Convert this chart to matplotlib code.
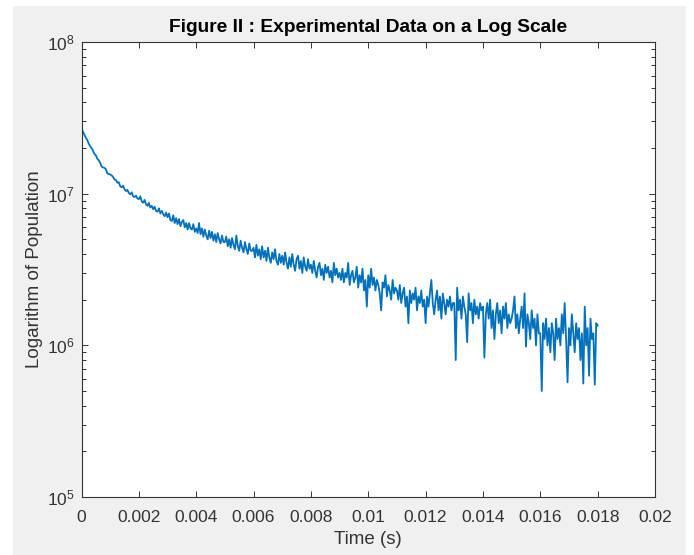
import numpy as np
import matplotlib.pyplot as plt
from matplotlib.patches import Rectangle
from matplotlib.ticker import FixedLocator, NullFormatter

plt.rcParams['font.family'] = ['Liberation Sans', 'DejaVu Sans']
plt.rcParams['mathtext.default'] = 'regular'

LINE_COLOR = '#0072BD'
TEXT_COLOR = '#333333'

# sampling step of the measurement (s)
dt = 0.00005

# population in millions, one row per millisecond (20 samples each)
pop_millions = [
    27.0, 25.6, 24.5, 23.4, 22.6, 21.4, 20.6, 20.0, 19.2, 18.3, 17.9, 17.0, 16.6, 16.0, 15.1, 14.9, 14.8, 14.5, 13.6, 13.5,
    13.4, 13.2, 12.9, 12.4, 12.3, 11.8, 11.9, 11.2, 11.0, 11.3, 10.7, 10.4, 10.6, 10.1, 9.9, 10.2, 9.6, 9.5, 9.7, 9.3,
    9.2, 9.6, 8.9, 8.7, 9.1, 8.5, 8.3, 8.7, 8.1, 8.3, 7.9, 8.2, 7.7, 7.6, 8.0, 7.4, 7.7, 7.3, 7.1, 7.5,
    7.0, 7.4, 6.7, 6.6, 7.2, 6.4, 6.9, 6.3, 6.8, 6.1, 6.5, 6.7, 6.0, 6.4, 5.8, 6.4, 5.9, 5.8, 6.3, 5.6,
    5.9, 5.5, 6.4, 5.4, 5.9, 5.2, 5.8, 5.3, 5.0, 5.7, 5.1, 5.6, 4.9, 5.4, 4.8, 5.5, 5.0, 4.7, 5.3, 4.8,
    4.8, 5.2, 4.5, 5.0, 4.4, 5.1, 4.6, 4.3, 5.3, 4.5, 4.2, 4.9, 4.4, 4.1, 4.8, 4.3, 4.0, 4.7, 4.2, 4.2,
    4.4, 3.8, 4.6, 3.9, 4.3, 3.7, 4.5, 3.8, 4.2, 3.6, 4.4, 3.8, 3.5, 4.1, 3.7, 4.3, 3.6, 3.4, 4.0, 3.5,
    3.9, 3.4, 4.1, 3.5, 3.2, 3.8, 3.3, 4.0, 3.4, 3.1, 3.7, 3.9, 3.2, 3.6, 3.0, 3.8, 3.3, 3.1, 3.7, 3.2,
    3.4, 3.0, 3.6, 3.1, 2.8, 3.3, 3.5, 2.9, 3.2, 2.7, 3.4, 3.0, 3.3, 2.8, 3.1, 2.6, 3.5, 2.9, 3.2, 2.8,
    3.0, 2.7, 3.2, 2.6, 3.0, 2.8, 3.5, 2.5, 2.9, 3.1, 2.6, 2.8, 3.3, 2.4, 2.9, 2.6, 3.2, 2.3, 2.7, 1.8,
    2.9, 2.4, 3.2, 2.5, 2.8, 2.3, 2.7, 2.5, 2.2, 1.7, 2.6, 2.4, 2.9, 2.1, 2.5, 2.3, 2.0, 2.7, 2.2, 2.4,
    2.3, 2.0, 2.5, 1.9, 2.2, 2.4, 1.8, 2.1, 1.4, 2.3, 1.9, 2.2, 2.0, 2.4, 1.7, 2.1, 1.9, 2.3, 1.8, 2.0,
    1.4, 2.1, 1.8, 2.2, 2.7, 1.9, 1.6, 2.0, 2.3, 1.7, 2.1, 1.5, 2.2, 1.9, 1.6, 2.0, 1.8, 2.1, 1.7, 1.9,
    1.9, 0.8, 2.4, 1.7, 2.0, 1.5, 2.1, 1.8, 1.6, 1.05, 2.2, 1.7, 1.9, 1.4, 2.0, 1.6, 1.8, 1.5, 1.9, 1.7,
    1.8, 0.83, 1.6, 1.9, 1.5, 2.0, 1.3, 1.7, 1.1, 1.6, 1.9, 1.4, 1.7, 1.2, 1.8, 1.5, 1.9, 1.3, 1.6, 1.4,
    1.5, 1.7, 2.1, 1.3, 1.6, 1.2, 1.5, 1.8, 1.3, 2.2, 0.98, 1.6, 1.4, 1.1, 1.7, 1.3, 1.5, 1.0, 1.6, 1.2,
    1.2, 0.50, 1.4, 1.1, 1.5, 1.0, 1.3, 0.9, 1.4, 1.2, 0.8, 1.5, 1.1, 1.3, 1.0, 1.6, 1.2, 1.9, 1.1, 0.57,
    1.3, 1.0, 1.6, 1.2, 0.9, 1.4, 1.1, 1.3, 0.8, 1.2, 0.56, 1.8, 1.0, 1.3, 0.63, 1.5, 1.1, 1.2, 0.55, 1.4,
    1.35,
]

x_ticks = [0, 0.002, 0.004, 0.006, 0.008, 0.01, 0.012, 0.014, 0.016, 0.018, 0.02]
x_tick_labels = ['0', '0.002', '0.004', '0.006', '0.008', '0.01', '0.012',
                 '0.014', '0.016', '0.018', '0.02']
y_ticks = [1e5, 1e6, 1e7, 1e8]

population = np.array(pop_millions) * 1e6
time = np.arange(len(population)) * dt

fig = plt.figure(figsize=(6.94, 5.55), dpi=100, facecolor='white')
# matlab style grey figure panel
fig.patches.append(Rectangle((13 / 694, 0), 673 / 694, 549 / 555,
                             transform=fig.transFigure, facecolor='#f0f0f0',
                             edgecolor='none', zorder=-10))

ax = fig.add_axes([81.5 / 694, 58 / 555, 573.5 / 694, 455 / 555])
ax.plot(time, population, color=LINE_COLOR, linewidth=1.3)

ax.set_yscale('log')
ax.set_xlim(0, 0.02)
ax.set_ylim(1e5, 1e8)
ax.set_xticks(x_ticks)
ax.set_xticklabels(x_tick_labels)
ax.xaxis.set_minor_locator(FixedLocator([]))
ax.set_yticks(y_ticks)
minor_y = [m * 10.0 ** e for e in range(5, 8) for m in range(2, 10)]
ax.yaxis.set_minor_locator(FixedLocator(minor_y))
ax.yaxis.set_minor_formatter(NullFormatter())

ax.tick_params(which='both', direction='in', top=True, right=True,
               colors=TEXT_COLOR, labelsize=12.5)
ax.tick_params(which='major', length=4.5, width=0.7, pad=5)
ax.tick_params(axis='x', which='major', pad=9)
ax.tick_params(which='minor', length=3, width=0.7)
for sp in ax.spines.values():
    sp.set_color(TEXT_COLOR)
    sp.set_linewidth(0.8)

ax.set_title('Figure II : Experimental Data on a Log Scale', fontsize=13.8,
             fontweight='bold', color='black', pad=7)
ax.set_xlabel('Time (s)', fontsize=13.5, color=TEXT_COLOR, labelpad=5)
ax.set_ylabel('Logarithm of Population', fontsize=13.5, color=TEXT_COLOR, labelpad=3)

plt.savefig('out.png', dpi=100, facecolor=fig.get_facecolor())
